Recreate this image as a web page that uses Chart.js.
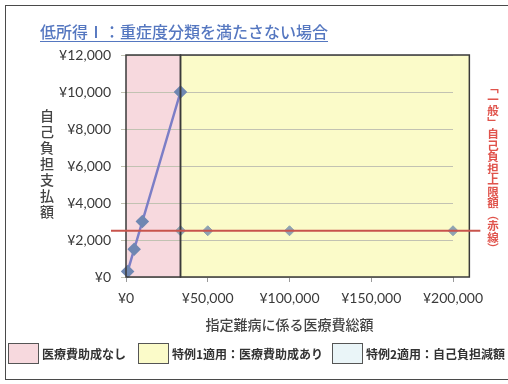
<!DOCTYPE html>
<html>
<head>
<meta charset="utf-8">
<script src="https://cdn.jsdelivr.net/npm/chart.js@4.4.1/dist/chart.umd.min.js"></script>
<style>
  html, body { margin: 0; padding: 0; background: #fff; }
  #wrap { position: relative; width: 508px; height: 384px; overflow: hidden; background: #fff; }
  #frame { position: absolute; left: 5px; top: 5px; width: 520px; height: 375px;
           border: 1.5px solid #4a4a4a; box-sizing: border-box; }
  canvas { position: absolute; left: 0; top: 0; }
  #title { position: absolute; left: 40px; top: 19px; font: 500 16px "Noto Sans CJK JP";
           color: #5577c0; text-decoration: underline; text-underline-offset: 3px; white-space: nowrap; }
  #ytitle { position: absolute; left: 37px; top: 109px; writing-mode: vertical-rl; text-orientation: upright;
            font: 500 14px "Noto Sans CJK JP"; color: #444; letter-spacing: 2px; }
  #rnote { position: absolute; left: 485px; top: 82px; writing-mode: vertical-rl;
           font: bold 11.5px "Noto Sans CJK JP"; color: #e0544c; white-space: nowrap; }
  #legend { position: absolute; left: 8px; top: 343px; height: 21px; }
  .item { position: absolute; top: 0; display: flex; align-items: center; white-space: nowrap;
          font: bold 12px "Noto Sans CJK JP"; color: #333; }
  .sw { width: 31px; height: 21px; border: 1.5px solid #555; box-sizing: border-box; margin-right: 3px; }
</style>
</head>
<body>
<div id="wrap">
  <div id="frame"></div>
  <canvas id="c" width="508" height="384"></canvas>
  <div id="title">低所得Ⅰ：重症度分類を満たさない場合</div>
  <div id="ytitle">自己負担支払額</div>
  <div id="rnote">「一般」自己負担上限額（赤線）</div>
  <div id="legend"></div>
</div>
<script>
// Total medical cost (yen) and the patient's own payment without aid (30% share)
const costNoAid = [1000, 5000, 10000, 33333];
const payNoAid = [300, 1500, 3000, 10000];

// With aid: payment stays at the monthly cap
const costAid = [33333, 50000, 100000, 200000];
const payAid = [2500, 2500, 2500, 2500];

// General self-pay cap (red line)
const generalCap = 2500;

// Shaded zones along the cost axis
const zoneBounds = [0, 33333, 210000];
const zoneLabels = ['医療費助成なし', '特例1適用：医療費助成あり', '特例2適用：自己負担減額'];
const zoneColors = ['#f7d9de', '#fbfbc9', '#eaf5f8'];

// Axis ticks
const xTickValues = [0, 50000, 100000, 150000, 200000];
const yTickValues = [0, 2000, 4000, 6000, 8000, 10000, 12000];

const yen = v => '¥' + Number(v).toLocaleString('en-US');

// Legend
const legendLeft = [0, 130, 324];
const legend = document.getElementById('legend');
zoneLabels.forEach((label, i) => {
  const it = document.createElement('div');
  it.className = 'item';
  it.style.left = legendLeft[i] + 'px';
  const sw = document.createElement('div');
  sw.className = 'sw';
  sw.style.background = zoneColors[i];
  const tx = document.createElement('span');
  tx.textContent = label;
  it.appendChild(sw);
  it.appendChild(tx);
  legend.appendChild(it);
});

const zonePlugin = {
  id: 'zones',
  beforeDraw(chart) {
    const { ctx, chartArea: { top, bottom }, scales: { x } } = chart;
    ctx.save();
    for (let i = 0; i < zoneBounds.length - 1; i++) {
      const x0 = x.getPixelForValue(zoneBounds[i]);
      const x1 = x.getPixelForValue(zoneBounds[i + 1]);
      ctx.fillStyle = zoneColors[i];
      ctx.fillRect(x0, top, x1 - x0, bottom - top);
    }
    ctx.restore();
  },
  afterDatasetsDraw(chart) {
    const { ctx, chartArea: { top, bottom, left }, scales: { x, y } } = chart;
    ctx.save();
    ctx.strokeStyle = '#3a3a3a';
    ctx.lineWidth = 1.5;
    for (let i = 0; i < zoneBounds.length - 1; i++) {
      const x0 = x.getPixelForValue(zoneBounds[i]);
      const x1 = x.getPixelForValue(zoneBounds[i + 1]);
      ctx.strokeRect(x0, top, x1 - x0, bottom - top);
    }
    const yc = y.getPixelForValue(generalCap);
    ctx.strokeStyle = '#c8544c';
    ctx.lineWidth = 2;
    ctx.beginPath();
    ctx.moveTo(left - 15, yc);
    ctx.lineTo(x.getPixelForValue(zoneBounds[zoneBounds.length - 1]) + 11, yc);
    ctx.stroke();
    ctx.restore();
  }
};

new Chart(document.getElementById('c'), {
  type: 'scatter',
  data: {
    datasets: [
      {
        data: costNoAid.map((c, i) => ({ x: c, y: payNoAid[i] })),
        showLine: true,
        borderColor: '#7c7ec6',
        borderWidth: 2.5,
        pointStyle: 'rectRot',
        pointRadius: 5,
        pointBackgroundColor: '#6f87b2',
        pointBorderColor: '#6f87b2',
        clip: false
      },
      {
        data: costAid.map((c, i) => ({ x: c, y: payAid[i] })),
        showLine: false,
        pointStyle: 'rectRot',
        pointRadius: 5,
        pointBackgroundColor: '#8ea3b2',
        pointBorderColor: '#8ea3b2',
        clip: false
      }
    ]
  },
  options: {
    responsive: false,
    animation: false,
    devicePixelRatio: 1,
    layout: { padding: { left: 0, right: 55, top: 55, bottom: 51 } },
    plugins: { legend: { display: false }, tooltip: { enabled: false } },
    scales: {
      x: {
        type: 'linear', min: 0, max: 200000,
        afterBuildTicks: s => { s.ticks = xTickValues.map(v => ({ value: v })); },
        afterFit: s => { s.height = 56; },
        ticks: { callback: v => yen(v), font: { family: 'Lato', size: 14 }, color: '#3a3a3a', padding: 8, maxRotation: 0 },
        grid: { drawOnChartArea: false, drawTicks: true, tickLength: 5, color: '#9a9a9a' },
        border: { display: false },
        title: { display: true, text: '指定難病に係る医療費総額', font: { family: 'Noto Sans CJK JP', size: 14, weight: '500' }, color: '#444', padding: 0 }
      },
      y: {
        type: 'linear', min: 0, max: 12000,
        afterBuildTicks: s => { s.ticks = yTickValues.map(v => ({ value: v })); },
        afterFit: s => { s.width = 126; },
        ticks: { callback: v => yen(v), font: { family: 'Lato', size: 14 }, color: '#3a3a3a', padding: 10 },
        grid: { color: '#c2c2b2', tickLength: 5 },
        border: { display: false }
      }
    }
  },
  plugins: [zonePlugin]
});
</script>
</body>
</html>
